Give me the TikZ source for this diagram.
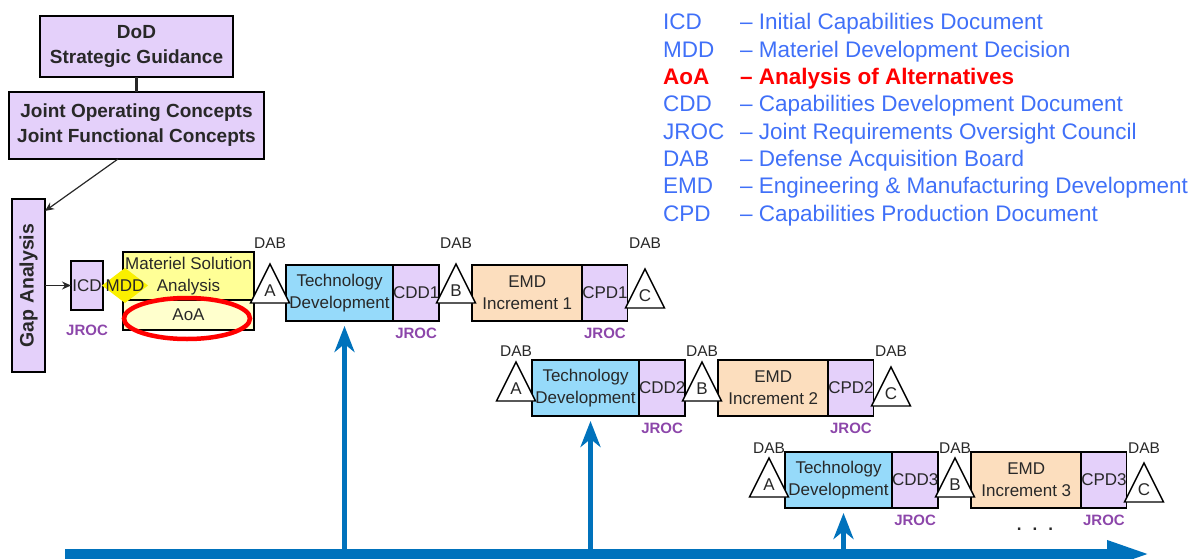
\documentclass[tikz,border=0pt]{standalone}
\usepackage{fontspec}
\setmainfont{Liberation Sans}
\usetikzlibrary{positioning,shapes.geometric,arrows.meta}

\definecolor{lavender}{RGB}{228,208,250}
\definecolor{msayellow}{RGB}{255,255,150}
\definecolor{aoayellow}{RGB}{255,255,205}
\definecolor{mddyellow}{RGB}{250,240,0}
\definecolor{tdblue}{RGB}{150,218,250}
\definecolor{emdpeach}{RGB}{252,222,190}
\definecolor{flowblue}{RGB}{0,114,188}
\definecolor{legblue}{RGB}{64,112,248}
\definecolor{jrocpurple}{RGB}{140,70,170}
\definecolor{inkgray}{RGB}{40,40,40}

\newcommand{\pxsize}[2]{\fontsize{#1}{#2}\selectfont}

\tikzset{
  phasetext/.style={text=inkgray, font=\pxsize{17}{22}, inner sep=0pt},
  phase/.style={phasetext, draw, line width=1.6pt, outer sep=0pt, align=center},
  lav/.style={phase, fill=lavender},
  jroc/.style={text=jrocpurple, font=\bfseries\pxsize{15}{15}, inner sep=0pt},
  dab/.style={text=inkgray, font=\pxsize{15.5}{15.5}, inner sep=0pt},
  gate/.style={draw, fill=white, line width=1.4pt},
  link/.style={draw=inkgray, line width=2.5pt},
  pointer/.style={draw=inkgray, line width=1.2pt, -{Stealth[length=9pt,width=8pt]}},
  flow/.style={draw=flowblue, line width=5pt, shorten >=5pt, -{Stealth[length=26pt,width=20pt,inset=8pt]}},
  timeline/.style={draw=flowblue, line width=11pt, -{Triangle[length=45pt,width=24pt]}},
  legend/.style={text=legblue, font=\pxsize{22.5}{27}, inner sep=0pt, anchor=base west},
  legendhot/.style={legend, text=red, font=\bfseries\pxsize{22.5}{27}}
}

% triangle with letter and DAB over it
\newcommand{\dabgate}[5]{%
  \draw[gate] ({#2},{#3}) -- ++(19.5,39) -- ++(-39,0) -- cycle;
  \node[phasetext] (#1) at ({#2},{#3+27}) {#4};
  \node[dab] (#1dab) at ({#2},{#5}) {DAB};
}

\begin{document}
\begin{tikzpicture}[x=1pt,y=-1pt]
\useasboundingbox (0,0) rectangle (1199,559);
\clip (0,0) rectangle (1199,559);

% guidance and gap analysis
\node[lav, font=\bfseries\pxsize{19}{25}, minimum width=193, minimum height=61] (dod) at (136.5,46.5) {DoD\\Strategic Guidance};
\node[lav, font=\bfseries\pxsize{19}{25}, minimum width=255, minimum height=67] (joint) at (136.5,125.5) {Joint Operating Concepts\\Joint Functional Concepts};
\node[lav, rotate=90, font=\bfseries\pxsize{19.5}{20}, minimum width=173, minimum height=33] (gap) at (28.5,285.5) {Gap Analysis};
\draw[link] (dod) -- (joint);
\draw[pointer] ([xshift=-18.5pt]joint.south) -- ([yshift=-12pt]gap.south east);

% materiel solution analysis
\node[lav, minimum width=32, minimum height=49] (icd) at (87,285.5) {ICD};
\node[jroc, below=15pt of icd] (jrocicd) {JROC};
\draw[pointer] (gap.south) -- (icd);
\node[phase, fill=msayellow, anchor=north west, minimum width=131, minimum height=48] (msa) at (123,252) {Materiel Solution\\Analysis};
\node[phase, fill=aoayellow, below=0pt of msa, minimum width=131, minimum height=30] (aoa) {AoA};
\node[ellipse, draw=red, line width=4.5pt, minimum width=126, minimum height=41, inner sep=0pt] (aoaring) at (187,318.5) {};
\coordinate (mddc) at (125,285.5);
\fill[mddyellow] (mddc) ++(-23,0) -- ++(23,-17.5) -- ++(23,17.5) -- ++(-23,17.5) -- cycle;
\node[phasetext] (mdd) at (mddc) {MDD};

% increments
\foreach \i/\x/\y/\tri/\lab in {1/286/265/-1/-22, 2/532/360/2/-9, 3/785/452/6/-4}{
  \node[phase, fill=tdblue, anchor=north west, minimum width=107, minimum height=56] (td\i) at (\x,\y) {Technology\\Development};
  \node[lav, right=0pt of td\i, minimum width=46, minimum height=56] (cdd\i) {CDD\i};
  \node[phase, fill=emdpeach, right=33pt of cdd\i, minimum width=110, minimum height=56] (emd\i) {EMD\\Increment \i};
  \node[lav, right=0pt of emd\i, minimum width=45, minimum height=56] (cpd\i) {CPD\i};
  \node[jroc, below=7pt of cdd\i] (jrocc\i) {JROC};
  \node[jroc, below=7pt of cpd\i] (jrocp\i) {JROC};
  \dabgate{ga\i}{\x-16}{\y+(\tri)}{A}{\y+(\lab)}
  \dabgate{gb\i}{\x+170}{\y+(\tri)}{B}{\y+(\lab)}
  \dabgate{gc\i}{\x+359}{\y+(\tri)+5}{C}{\y+(\lab)}
}
\node[text=inkgray, font=\bfseries\pxsize{17}{17}] (more) at (1035,529) {.\hspace{11pt}.\hspace{11pt}.};

% time line
\coordinate (tl0) at (65,554);
\coordinate (tl1) at (1152,554);
\foreach \i in {1,2,3}{
  \coordinate (up\i) at ([xshift=5pt]td\i.south);
  \draw[flow] (up\i |- tl0) -- (up\i);
}
\draw[timeline] (tl0) -- (tl1);

% legend
\foreach \ab/\txt/\sty [count=\k] in {ICD/Initial Capabilities Document/legend,
  MDD/Materiel Development Decision/legend, AoA/Analysis of Alternatives/legendhot,
  CDD/Capabilities Development Document/legend, JROC/Joint Requirements Oversight Council/legend,
  DAB/Defense Acquisition Board/legend, EMD/Engineering \& Manufacturing Development/legend,
  CPD/Capabilities Production Document/legend}{
  \node[\sty] (abbr\k) at (663,30+27.3*\k-27.3) {\ab};
  \node[\sty] (meaning\k) at (740,30+27.3*\k-27.3) {-- \txt};
}
\end{tikzpicture}
\end{document}
